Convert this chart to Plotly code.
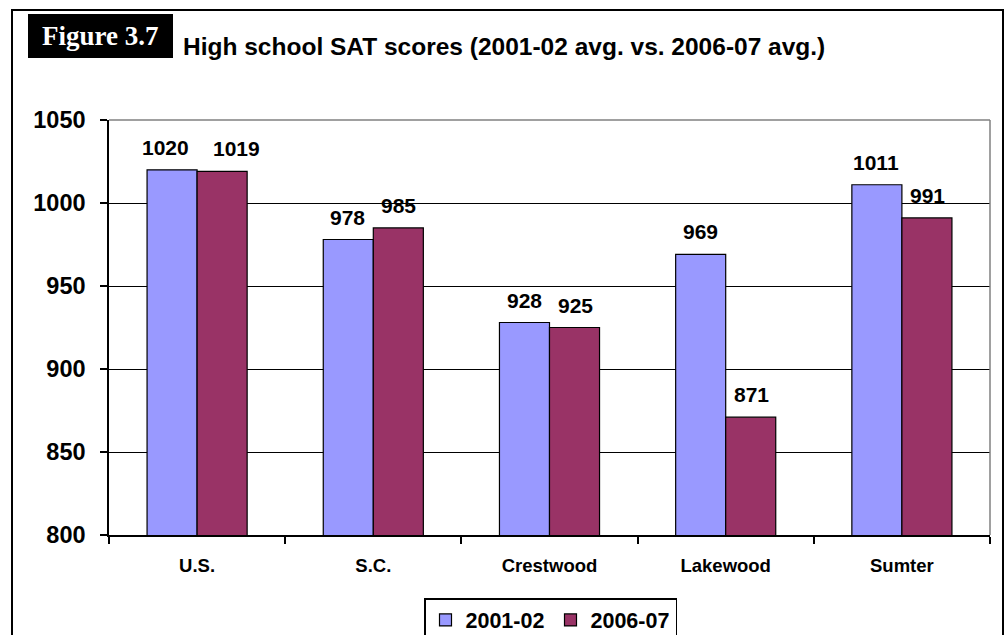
import plotly.graph_objects as go

categories = ["U.S.", "S.C.", "Crestwood", "Lakewood", "Sumter"]
series_names = ["2001-02", "2006-07"]
values_2001 = [1020, 978, 928, 969, 1011]
values_2006 = [1019, 985, 925, 871, 991]
y_ticks = [800, 850, 900, 950, 1000, 1050]
colors = ["#9999FF", "#993366"]

# label nudges (pixels) for the crowded U.S. pair, as in the original
label_nudge = [[-6, 0, 0, 0, 0], [14, 0, 0, 0, 0]]

FONT = "Liberation Sans, Arial, sans-serif"
W, H = 1006, 635
L, R, T, B = 109, 16, 120, 100
pw, ph = W - L - R, H - T - B

def px_x(x):
    return (x - L) / pw

def px_y(y):
    return (H - B - y) / ph

fig = go.Figure()
for name, vals, col in zip(series_names, [values_2001, values_2006], colors):
    fig.add_trace(go.Bar(
        x=categories, y=vals, name=name,
        marker=dict(color=col, line=dict(color="black", width=1.2)),
        hoverinfo="x+y+name",
    ))

annotations = []
offsets = [-25.5, 25.5]
for vals, off, nudges in zip([values_2001, values_2006], offsets, label_nudge):
    for c, v, n in zip(categories, vals, nudges):
        annotations.append(dict(
            x=c, y=v, xref="x", yref="y", text=str(v), showarrow=False,
            xshift=off + n, yshift=9, yanchor="bottom", xanchor="center",
            font=dict(family=FONT, size=21, color="black", weight="bold"),
        ))

# title and figure label
annotations.append(dict(
    x=px_x(100), y=px_y(36), xref="paper", yref="paper", text="Figure 3.7",
    showarrow=False, xanchor="center", yanchor="middle",
    font=dict(family="Liberation Serif, Times New Roman, serif", size=27, color="white", weight="bold"),
))
annotations.append(dict(
    x=px_x(181), y=px_y(46), xref="paper", yref="paper",
    text="High school SAT scores (2001-02 avg. vs. 2006-07 avg.)",
    showarrow=False, xanchor="left", yanchor="middle",
    font=dict(family=FONT, size=24.5, color="black", weight="bold"),
))

shapes = [
    # outer frame
    dict(type="rect", xref="paper", yref="paper",
         x0=px_x(12), x1=px_x(1003), y0=px_y(650), y1=px_y(10),
         line=dict(color="black", width=2), fillcolor="rgba(0,0,0,0)", layer="below"),
    # figure label box
    dict(type="rect", xref="paper", yref="paper",
         x0=px_x(28), x1=px_x(173), y0=px_y(58), y1=px_y(14),
         line=dict(width=0), fillcolor="black", layer="below"),
    # gray top and right plot border
    dict(type="line", xref="paper", yref="paper", x0=0, x1=1, y0=1, y1=1,
         line=dict(color="#808080", width=1.5), layer="above"),
    dict(type="line", xref="paper", yref="paper", x0=1, x1=1, y0=0, y1=1,
         line=dict(color="#808080", width=1.5), layer="above"),
]

fig.update_layout(
    width=W, height=H,
    margin=dict(l=L, r=R, t=T, b=B, autoexpand=False),
    paper_bgcolor="white", plot_bgcolor="white",
    barmode="group", bargap=0.432, bargroupgap=0,
    font=dict(family=FONT, color="black"),
    showlegend=True,
    legend=dict(
        orientation="h", x=px_x(424), y=px_y(598), xanchor="left", yanchor="top",
        bordercolor="black", borderwidth=1.5, bgcolor="white",
        font=dict(family=FONT, size=21.5, color="black", weight="bold"),
        itemwidth=30, traceorder="normal",
        entrywidth=80, entrywidthmode="pixels",
    ),
    annotations=annotations,
    shapes=shapes,
)
fig.update_xaxes(
    type="category", showline=True, linecolor="black", linewidth=1.5,
    ticks="outside", tickson="boundaries", ticklen=7, tickcolor="black", tickwidth=1.5,
    tickfont=dict(family=FONT, size=18.5, color="black", weight="bold"),
    ticklabelstandoff=13, showgrid=False,
)
fig.update_yaxes(
    range=[800, 1050], tickvals=y_ticks, showline=True, linecolor="black", linewidth=1.5,
    ticks="outside", ticklen=7, tickcolor="black", tickwidth=1.5,
    tickfont=dict(family=FONT, size=23.5, color="black", weight="bold"),
    ticklabelstandoff=10,
    showgrid=True, gridcolor="black", gridwidth=1, zeroline=False,
)

fig.write_html(
    "out.html",
    config={"displayModeBar": False},
    post_script="document.body.style.margin='0';document.body.style.overflow='hidden';",
)
